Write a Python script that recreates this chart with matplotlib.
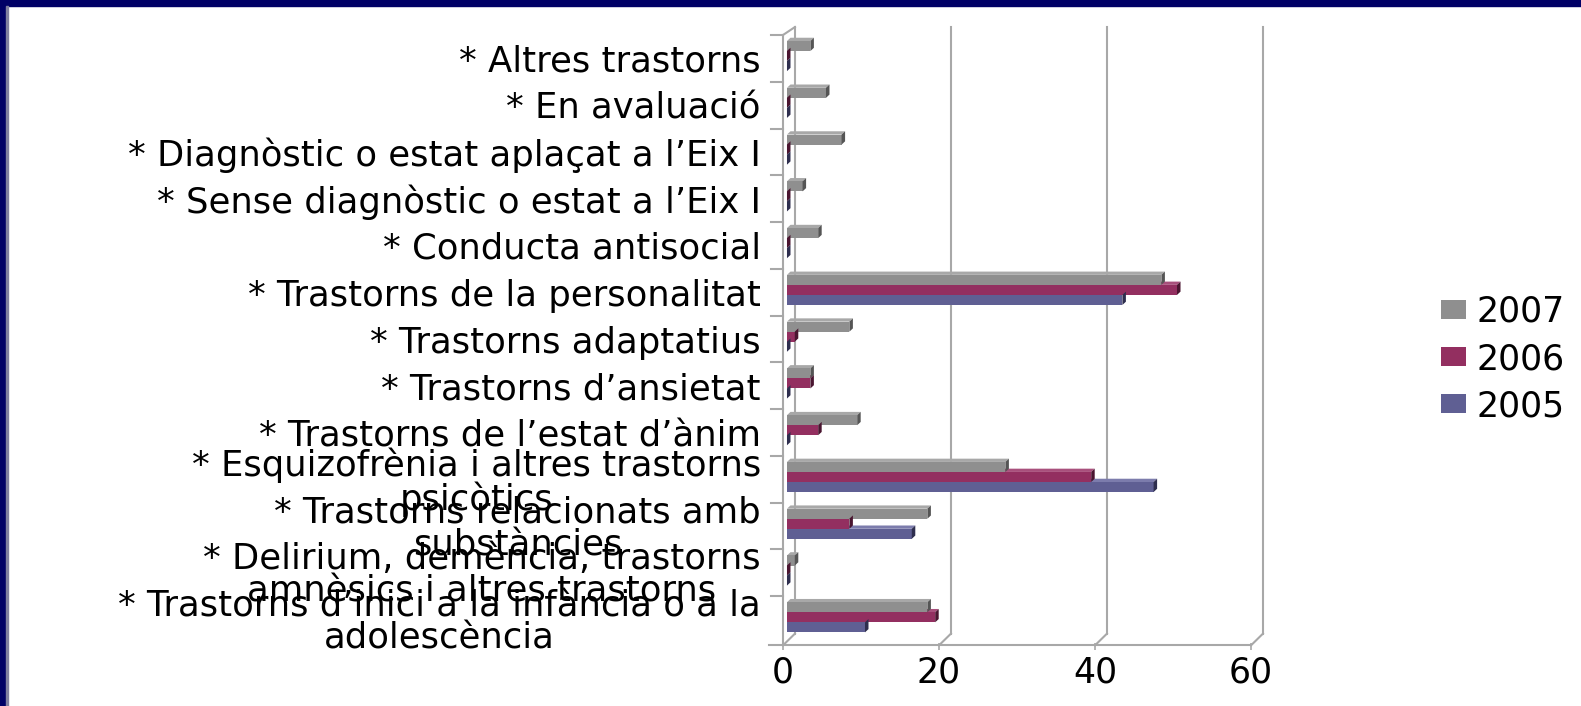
import matplotlib
matplotlib.use('Agg')
import matplotlib.pyplot as plt
from matplotlib.patches import Polygon, Rectangle
import numpy as np

# categories from top to bottom, as in the picture
categories = [
    '* Altres trastorns',
    '* En avaluació',
    '* Diagnòstic o estat aplaçat a l’Eix I',
    '* Sense diagnòstic o estat a l’Eix I',
    '* Conducta antisocial',
    '* Trastorns de la personalitat',
    '* Trastorns adaptatius',
    '* Trastorns d’ansietat',
    '* Trastorns de l’estat d’ànim',
    '* Esquizofrènia i altres trastorns\npsicòtics',
    '* Trastorns relacionats amb\nsubstàncies',
    '* Delirium, demència, trastorns\namnèsics i altres trastorns',
    '* Trastorns d’inici a la infància o a la\nadolescència',
]
years = ['2007', '2006', '2005']
v2007 = [3, 5, 7, 2, 4, 48, 8, 3, 9, 28, 18, 1, 18]
v2006 = [0, 0, 0, 0, 0, 50, 1, 3, 4, 39, 8, 0, 19]
v2005 = [0, 0, 0, 0, 0, 43, 0, 0, 0, 47, 16, 0, 10]
xticks = [0, 20, 40, 60]

face = {'2007': '#8f8f8f', '2006': '#932f60', '2005': '#5f5f93'}
topc = {'2007': '#a8a8a8', '2006': '#a8507c', '2005': '#7c7cac'}
capc = {'2007': '#555555', '2006': '#4a1530', '2005': '#2e2e4e'}
grid_c = '#a8a8a8'

plt.rcParams['font.family'] = ['DejaVu Sans']

fig = plt.figure(figsize=(15.81, 7.06), dpi=100)
# border of the slide
fig.patches.append(Rectangle((0, 1 - 6 / 706), 1, 6 / 706, transform=fig.transFigure, color='#000066'))
fig.patches.append(Rectangle((0, 0), 6 / 1581, 1, transform=fig.transFigure, color='#000066'))
fig.patches.append(Rectangle((6 / 1581, 0), 1.5 / 1581, 1 - 6 / 706, transform=fig.transFigure, color='#8080a0'))

ax = fig.add_axes([783 / 1581, 63 / 706, 472 / 1581, 608 / 706])
ax.set_xlim(0, 60)
ax.set_ylim(0, 13)

n = len(categories)
pos = np.arange(n)[::-1]          # group k spans [k, k+1]
offs = {'2007': 0.236, '2006': 0.45, '2005': 0.665}
bh = 0.215
dx, dy = 0.45, 0.07

for yr, vals in zip(years, [v2007, v2006, v2005]):
    yc = pos + 1 - offs[yr]
    bars = ax.barh(yc, vals, height=bh, color=face[yr], label=yr, zorder=3)
    for b in bars:
        x0, y0, w, h = b.get_x(), b.get_y(), b.get_width(), b.get_height()
        ax.add_patch(Polygon([(x0, y0 + h), (x0 + w, y0 + h), (x0 + w + dx, y0 + h + dy), (x0 + dx, y0 + h + dy)],
                             closed=True, color=topc[yr], zorder=2.5, lw=0))
        ax.add_patch(Polygon([(x0 + w, y0), (x0 + w, y0 + h), (x0 + w + dx, y0 + h + dy), (x0 + w + dx, y0 + dy)],
                             closed=True, color=capc[yr], zorder=3.2, lw=0))

# pseudo 3D walls (oblique: back wall shifted right and up)
def xb(v):
    return v + 1.02

def xf(v):
    return v - 0.51

y_floor, y_back0, y_top = -0.05, 0.2, 13.17
for v in xticks:
    ax.plot([xb(v), xb(v)], [y_back0, y_top], color=grid_c, lw=1.5, clip_on=False, zorder=1)
    ax.plot([xf(v), xb(v)], [y_floor, y_back0], color=grid_c, lw=1.5, clip_on=False, zorder=1)
ax.plot([-2.3, xf(60)], [y_floor, y_floor], color=grid_c, lw=1.5, clip_on=False, zorder=1)
ax.plot([xf(0), xf(0)], [y_floor, 13.0], color=grid_c, lw=1.5, clip_on=False, zorder=1)
ax.plot([xf(0), xb(0)], [13.0, y_top], color=grid_c, lw=1.5, clip_on=False, zorder=1)
for k in range(1, n + 1):
    ax.plot([-2.0, xf(0)], [k, k], color=grid_c, lw=1.5, clip_on=False, zorder=1)

for s in ax.spines.values():
    s.set_visible(False)

ax.set_xticks([xf(v) for v in xticks], [str(v) for v in xticks])
ax.tick_params(axis='x', length=5, width=1.2, color=grid_c, labelsize=25, pad=4)
ax.set_yticks(pos + 0.5, categories)
ax.tick_params(axis='y', length=0, labelsize=25.5, pad=16)
for t in ax.get_yticklabels():
    t.set_multialignment('center')
    t.set_linespacing(0.95)

fig.legend(loc='center left', bbox_to_anchor=(1441 / 1581, 1 - 359 / 706), frameon=False,
           fontsize=25, handlelength=0.72, handleheight=0.45, handletextpad=0.3,
           labelspacing=0.38, borderpad=0, borderaxespad=0)

fig.savefig('out.png', dpi=100)
